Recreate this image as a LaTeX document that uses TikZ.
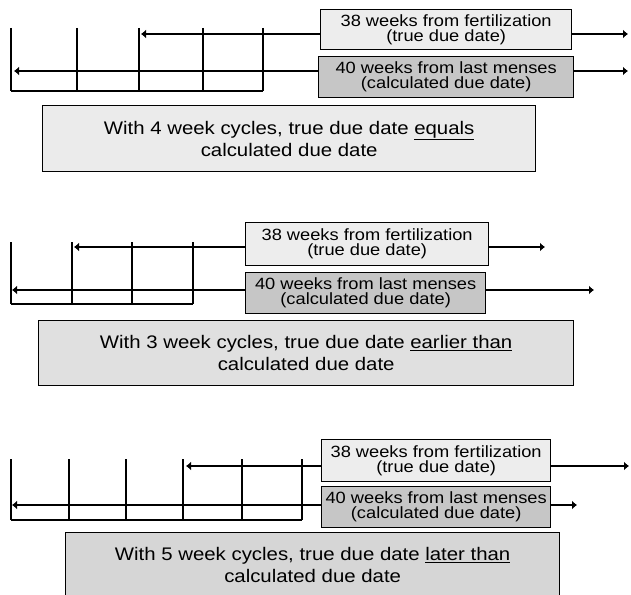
\documentclass[tikz,border=0pt]{standalone}
\usepackage{fontspec}
\setmainfont{Liberation Sans}[FakeStretch=1.12]
\usetikzlibrary{arrows.meta}
\tikzset{
  lbox/.style={draw=black, line width=1.3pt, fill=gray!14, inner sep=0pt, align=center, anchor=north west,
    font=\fontsize{16.3}{15}\selectfont},
  dbox/.style={lbox, fill=gray!45},
  bigbox/.style={draw=black, line width=1.3pt, inner sep=0pt, align=center, anchor=north west,
    font=\fontsize{18.2}{22}\selectfont},
  tick/.style={line width=1.2pt},
  arr/.style={line width=1.2pt, -{Latex[length=5pt,width=9pt]}},
}
\begin{document}
\begin{tikzpicture}[x=1pt,y=-1pt]
\useasboundingbox (0,0) rectangle (631,594);
\clip (0,0) rectangle (631,594);
% ---------------- Panel 1 ----------------
\foreach \x in {11,77,139,203,263} \draw[tick] (\x,28) -- (\x,91);
\draw[tick] (11,91) -- (263,91);
\node[lbox, minimum width=251pt, minimum height=40pt] (p1a) at (320,9) {38 weeks from fertilization\\(true due date)};
\node[dbox, minimum width=255pt, minimum height=41pt] (p1b) at (318,56) {40 weeks from last menses\\(calculated due date)};
\node[bigbox, fill=gray!16, minimum width=493pt, minimum height=66pt] (p1c) at (42,105) {With 4 week cycles, true due date \underline{equals}\\calculated due date};
\coordinate (p1al) at (141,34);
\coordinate (p1ar) at (628,34);
\coordinate (p1bl) at (14,71);
\coordinate (p1br) at (628,71);
\draw[arr] (p1a.west |- p1al) -- (p1al);
\draw[arr] (p1a.east |- p1ar) -- (p1ar);
\draw[arr] (p1b.west |- p1bl) -- (p1bl);
\draw[arr] (p1b.east |- p1br) -- (p1br);
% ---------------- Panel 2 ----------------
\foreach \x in {11,72,132,193} \draw[tick] (\x,242) -- (\x,304);
\draw[tick] (11,304) -- (193,304);
\node[lbox, minimum width=243pt, minimum height=43pt] (p2a) at (245,222) {38 weeks from fertilization\\(true due date)};
\node[dbox, minimum width=240pt, minimum height=41pt] (p2b) at (245,272) {40 weeks from last menses\\(calculated due date)};
\node[bigbox, fill=gray!24, minimum width=535pt, minimum height=65pt] (p2c) at (38,320) {With 3 week cycles, true due date \underline{earlier than}\\calculated due date};
\coordinate (p2al) at (74,247);
\coordinate (p2ar) at (545,247);
\coordinate (p2bl) at (12,290);
\coordinate (p2br) at (594,290);
\draw[arr] (p2a.west |- p2al) -- (p2al);
\draw[arr] (p2a.east |- p2ar) -- (p2ar);
\draw[arr] (p2b.west |- p2bl) -- (p2bl);
\draw[arr] (p2b.east |- p2br) -- (p2br);
% ---------------- Panel 3 ----------------
\foreach \x in {11,69,126,183,242,302} \draw[tick] (\x,459) -- (\x,520);
\draw[tick] (11,520) -- (302,520);
\node[lbox, minimum width=229pt, minimum height=42pt] (p3a) at (321,439) {38 weeks from fertilization\\(true due date)};
\node[dbox, minimum width=229pt, minimum height=41pt] (p3b) at (321,486) {40 weeks from last menses\\(calculated due date)};
\node[bigbox, fill=gray!32, minimum width=494pt, minimum height=65pt] (p3c) at (65,532) {With 5 week cycles, true due date \underline{later than}\\calculated due date};
\coordinate (p3al) at (186,466);
\coordinate (p3ar) at (629,466);
\coordinate (p3bl) at (12,505);
\coordinate (p3br) at (577,505);
\draw[arr] (p3a.west |- p3al) -- (p3al);
\draw[arr] (p3a.east |- p3ar) -- (p3ar);
\draw[arr] (p3b.west |- p3bl) -- (p3bl);
\draw[arr] (p3b.east |- p3br) -- (p3br);
\end{tikzpicture}
\end{document}
